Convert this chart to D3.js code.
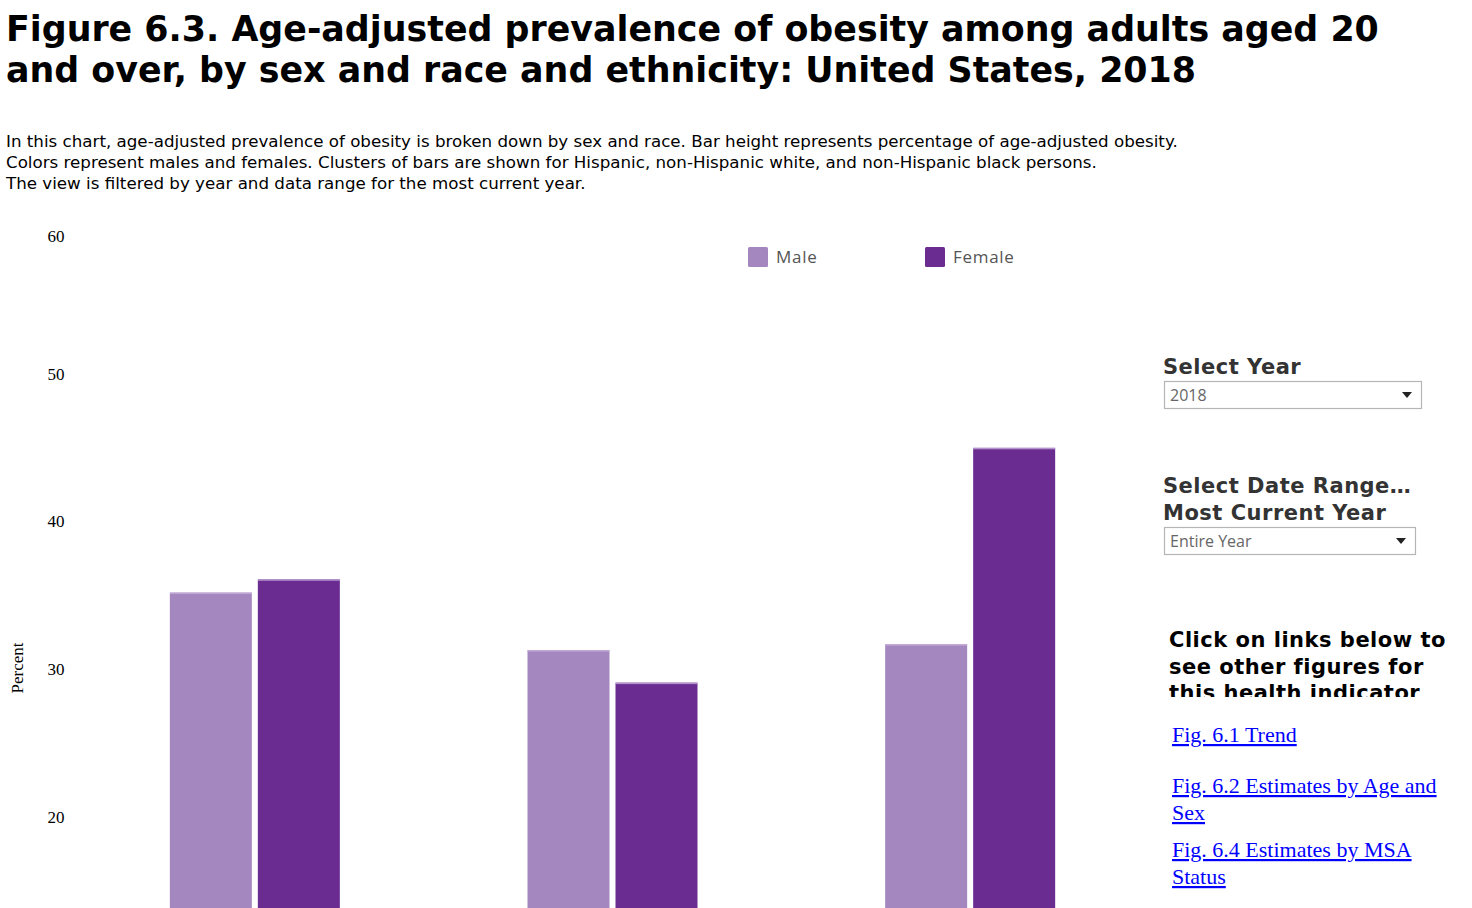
<!DOCTYPE html>
<html>
<head>
<meta charset="utf-8">
<script src="https://cdn.jsdelivr.net/npm/d3@7"></script>
<style>
  html, body { margin: 0; padding: 0; background: #fff; overflow: hidden; width: 1472px; height: 908px; }
  svg { display: block; }
</style>
</head>
<body>
<script>
// ---- data ----
const groups = ["Hispanic", "Non-Hispanic white", "Non-Hispanic black"];
const sexes = ["Male", "Female"];
const maleValues = [35.2, 31.3, 31.7];
const femaleValues = [36.1, 29.1, 45.0];
const yTicks = [20, 30, 40, 50, 60];
const colors = ["#a487be", "#6a2c91"];
const titleLines = [
  "Figure 6.3. Age-adjusted prevalence of obesity among adults aged 20",
  "and over, by sex and race and ethnicity: United States, 2018"
];
const subtitleLines = [
  "In this chart, age-adjusted prevalence of obesity is broken down by sex and race. Bar height represents percentage of age-adjusted obesity.",
  "Colors represent males and females. Clusters of bars are shown for Hispanic, non-Hispanic white, and non-Hispanic black persons.",
  "The view is filtered by year and data range for the most current year."
];
const linkLines = [
  ["Fig. 6.1 Trend"],
  ["Fig. 6.2 Estimates by Age and", "Sex"],
  ["Fig. 6.4 Estimates by MSA", "Status"]
];

const data = groups.map((g, i) => ({ group: g, values: [maleValues[i], femaleValues[i]] }));

const W = 1472, H = 1200;
const svg = d3.select("body").append("svg").attr("width", W).attr("height", H);

// title
svg.append("g").attr("transform", "translate(6,0) scale(0.968,1)")
  .selectAll("text").data(titleLines).join("text")
  .attr("x", 0).attr("y", (d, i) => 41 + i * 41)
  .attr("font-family", "DejaVu Sans").attr("font-weight", "bold").attr("font-size", 36)
  .attr("fill", "#000").text(d => d);

svg.append("g").selectAll("text").data(subtitleLines).join("text")
  .attr("x", 6).attr("y", (d, i) => 147 + i * 20.8)
  .attr("font-family", "DejaVu Sans").attr("font-size", 16.7)
  .attr("fill", "#000").text(d => d);

// scales
const y = d3.scaleLinear().domain([20, 50]).range([817, 374]);
const x0 = d3.scaleBand().domain(groups).range([76, 1149]).paddingInner(0.5).paddingOuter(0.25);
const barW = 82, gap = 6;

// y axis labels
const yAxis = svg.append("g");
yAxis.selectAll("text").data(yTicks).join("text")
  .attr("x", 56).attr("y", d => Math.max(y(d), 236) + 5.5)
  .attr("text-anchor", "middle")
  .attr("font-family", "Liberation Serif").attr("font-size", 17).attr("fill", "#000")
  .text(d => d);

svg.append("text")
  .attr("transform", "translate(23,668) rotate(-90)")
  .attr("text-anchor", "middle")
  .attr("font-family", "Liberation Serif").attr("font-size", 17).attr("fill", "#000")
  .text("Percent");

// bars
const gBars = svg.append("g");
data.forEach(d => {
  const cx = x0(d.group) + x0.bandwidth() / 2;
  d.values.forEach((v, j) => {
    const bx = cx + (j === 0 ? -(barW + gap / 2) : gap / 2);
    gBars.append("rect")
      .attr("x", bx).attr("y", y(v))
      .attr("width", barW).attr("height", y(0) - y(v))
      .attr("fill", colors[j]);
    gBars.append("rect")
      .attr("x", bx).attr("y", y(v))
      .attr("width", barW).attr("height", 1.5)
      .attr("fill", "#c7aedb").attr("opacity", 0.8);
  });
});

// legend
const legend = svg.append("g");
const legX = [748, 925];
sexes.forEach((s, i) => {
  legend.append("rect").attr("x", legX[i]).attr("y", 247).attr("width", 20).attr("height", 20)
    .attr("rx", 1.5).attr("fill", colors[i]);
  legend.append("text").attr("x", legX[i] + 28).attr("y", 263)
    .attr("font-family", "Open Sans").attr("font-size", 17).attr("fill", "#555")
    .attr("letter-spacing", 0.7)
    .text(s);
});

// right panel
const panel = svg.append("g");
function heading(lines, x, y0, lh, color) {
  panel.selectAll(null).data(lines).join("text")
    .attr("x", x).attr("y", (d, i) => y0 + i * lh)
    .attr("font-family", "DejaVu Sans").attr("font-weight", "bold").attr("font-size", 21)
    .attr("letter-spacing", 0.5)
    .attr("fill", color).text(d => d);
}
function dropdown(x, yTop, w, label) {
  panel.append("rect").attr("x", x + 0.5).attr("y", yTop + 0.5).attr("width", w).attr("height", 27)
    .attr("fill", "#fff").attr("stroke", "#b5b5b5").attr("stroke-width", 1.2);
  panel.append("text").attr("x", x + 6).attr("y", yTop + 20)
    .attr("font-family", "Open Sans").attr("font-size", 16).attr("fill", "#666").text(label);
  const tx = x + w - 14;
  panel.append("path").attr("d", `M${tx - 5},${yTop + 11}L${tx + 5},${yTop + 11}L${tx},${yTop + 17}Z`).attr("fill", "#222");
}
heading(["Select Year"], 1163, 374, 26, "#333");
dropdown(1164, 381, 257, "2018");
heading(["Select Date Range\u2026", "Most Current Year"], 1163, 493, 26.5, "#333");
dropdown(1164, 527, 251, "Entire Year");

// links heading (clipped)
const clip = svg.append("defs").append("clipPath").attr("id", "hclip");
clip.append("rect").attr("x", 1160).attr("y", 615).attr("width", 312).attr("height", 82);
const hg = svg.append("g").attr("clip-path", "url(#hclip)");
hg.selectAll("text").data(["Click on links below to", "see other figures for", "this health indicator"]).join("text")
  .attr("x", 1169).attr("y", (d, i) => 647 + i * 26.5)
  .attr("font-family", "DejaVu Sans").attr("font-weight", "bold").attr("font-size", 21)
  .attr("letter-spacing", 0.5)
  .attr("fill", "#000").text(d => d);

const linkTop = [742, 793, 857];
linkLines.forEach((lines, k) => {
  lines.forEach((t, i) => {
    panel.append("text").attr("x", 1172).attr("y", linkTop[k] + i * 27)
      .attr("font-family", "Liberation Serif").attr("font-size", 22)
      .attr("fill", "#0000ff").attr("text-decoration", "underline").text(t);
  });
});
</script>
</body>
</html>
